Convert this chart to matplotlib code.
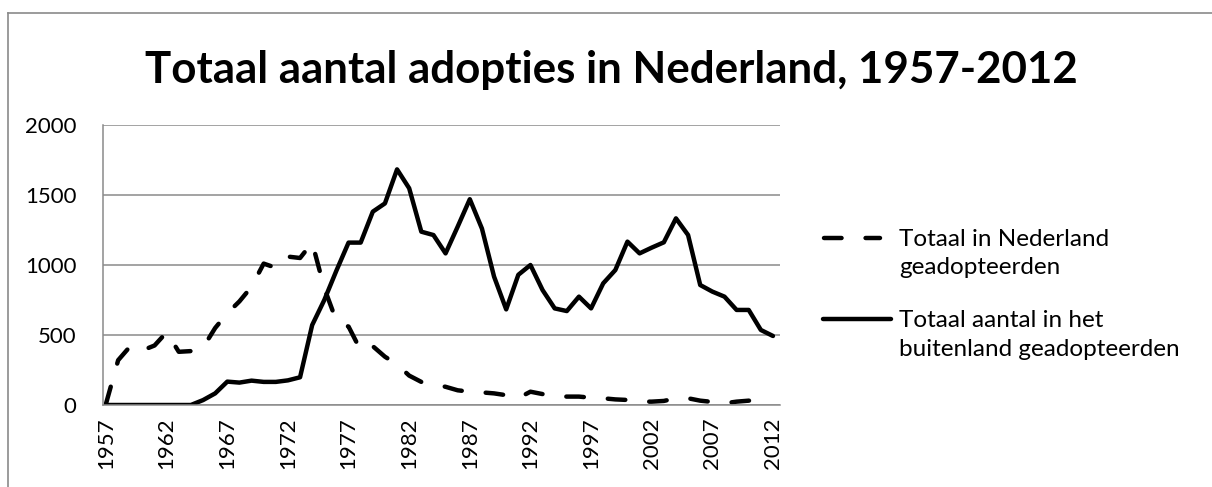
import numpy as np
import matplotlib
matplotlib.use("Agg")
import matplotlib.pyplot as plt
from matplotlib.lines import Line2D

plt.rcParams['font.family'] = ['Lato', 'DejaVu Sans']

years = list(range(1957, 2013))

# in Nederland geadopteerde kinderen
binnenland = [10, 320, 420, 390, 425, 520, 380, 385, 410, 550,
              655, 740, 845, 1010, 980, 1060, 1050, 1160, 835, 600,
              560, 390, 420, 345, 290, 210, 165, 148, 130, 105,
              95, 90, 83, 70, 50, 95, 78, 62, 60, 60,
              52, 48, 40, 36, 24, 24, 29, 48, 48, 31,
              22, 12, 24, 31, 29, 27]

# in het buitenland geadopteerde kinderen
buitenland = [0, 0, 0, 0, 0, 0, 0, 0, 35, 83,
              167, 160, 174, 165, 165, 176, 198, 571, 750, 960,
              1160, 1160, 1381, 1440, 1683, 1548, 1238, 1214, 1083, 1274,
              1470, 1260, 917, 683, 930, 1000, 821, 690, 671, 774,
              690, 869, 964, 1167, 1083, 1124, 1162, 1333, 1214, 857,
              810, 774, 679, 679, 536, 493]

labels = ["Totaal in Nederland\ngeadopteerden",
          "Totaal aantal in het\nbuitenland geadopteerden"]
title = "Totaal aantal adopties in Nederland, 1957-2012"

W, H = 1212, 487
GRAY = "#8a8a8a"
LW = 3.2
DASH = (3.95, 5.4)
FS = 16


def fx(x):
    return x / W


def fy(y):
    return 1 - y / H


fig = plt.figure(figsize=(W / 100, H / 100), dpi=100)
ax = fig.add_axes([fx(103), fy(405), fx(780) - fx(103), fy(125) - fy(405)])

ax.plot(years, binnenland, color="black", lw=LW, linestyle=(0, DASH),
        dash_capstyle="round", solid_capstyle="round", solid_joinstyle="round")
ax.plot(years, buitenland, color="black", lw=LW,
        solid_capstyle="round", solid_joinstyle="round")

ax.set_ylim(0, 2000)
ax.set_yticks(range(0, 2001, 500))
ax.set_xlim(1956.75, 2012.58)
ax.set_xticks(years[::5])
ax.set_xticklabels([str(y) for y in years[::5]], rotation=90)
ax.tick_params(axis="y", length=0, pad=19, labelsize=FS)
ax.tick_params(axis="x", length=0, pad=9, labelsize=FS)
ax.grid(axis="y", color=GRAY, lw=1.1)
ax.set_axisbelow(True)
for s in ["top", "right"]:
    ax.spines[s].set_visible(False)
for s in ["left", "bottom"]:
    ax.spines[s].set_color(GRAY)
    ax.spines[s].set_linewidth(1.1)

# chart border (only top and left visible in the crop)
fig.add_artist(Line2D([fx(7.5), fx(7.5)], [fy(12.5), 0], color=GRAY, lw=1.2))
fig.add_artist(Line2D([fx(7.5), 1], [fy(12.5), fy(12.5)], color=GRAY, lw=1.2))

# title, fitted to the reference width
t = fig.text(fx(611), fy(83), title, ha="center", va="baseline",
             fontsize=30, fontweight="bold")
fig.canvas.draw()
w = t.get_window_extent().width
t.set_fontsize(30 * 931 / w)

# legend drawn by hand: key next to the first line of each label
fig.add_artist(Line2D([fx(824), fx(880)], [fy(238), fy(238)], color="black",
                      lw=LW, linestyle=(0, DASH), dash_capstyle="round"))
fig.add_artist(Line2D([fx(823), fx(891)], [fy(319), fy(319)], color="black",
                      lw=LW, solid_capstyle="round"))
for lab, base in zip(labels, [246, 327]):
    for k, line in enumerate(lab.split("\n")):
        fig.text(fx(899), fy(base + 28.5 * k), line, ha="left",
                 va="baseline", fontsize=17.5)

fig.savefig("out.png", dpi=100)
